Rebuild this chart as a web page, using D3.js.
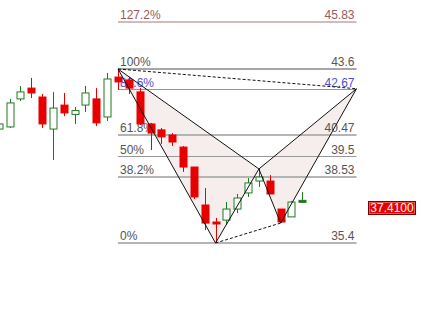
<!DOCTYPE html>
<html>
<head>
<meta charset="utf-8">
<script src="https://cdn.jsdelivr.net/npm/d3@7"></script>
<style>
  body { margin: 0; background: #fff; }
  svg { display: block; font-family: "Liberation Sans", Arial, sans-serif; }
</style>
</head>
<body>
<svg id="chart" width="422" height="326"></svg>
<script>
// candle data, one entry per bar
var opens  = [40.77, 40.87, 42.19, 42.70, 42.28, 40.77, 41.90, 41.46, 41.90, 42.19, 41.34, 43.22, 43.08, 42.52, 41.01,
              40.73, 40.49, 39.92, 38.98, 37.19, 36.39, 36.48, 37.00, 37.76, 38.32, 38.32, 37.00, 36.63, 37.35];
var highs  = [41.06, 42.19, 42.80, 43.18, 42.42, 42.52, 42.47, 41.81, 42.80, 42.70, 43.41, 43.60, 43.22, 42.70, 41.06,
              40.82, 40.58, 39.97, 38.98, 37.99, 36.58, 37.33, 37.71, 38.46, 38.89, 38.60, 37.00, 37.38, 37.80];
var lows   = [40.73, 40.82, 42.09, 42.23, 40.82, 39.31, 41.38, 41.01, 41.57, 40.91, 41.15, 42.61, 42.42, 40.96, 39.78,
              40.07, 39.97, 38.75, 37.47, 36.01, 35.40, 36.25, 36.81, 37.57, 38.04, 37.71, 36.34, 36.63, 37.35];
var closes = [41.01, 42.00, 42.52, 42.47, 41.01, 41.76, 41.53, 41.64, 42.47, 41.06, 43.13, 42.99, 42.70, 41.01, 40.58,
              40.40, 40.16, 38.98, 37.57, 36.34, 36.30, 37.00, 37.52, 38.23, 38.51, 37.71, 36.39, 37.33, 37.41];

// fibonacci levels
var fibLabels = ["127.2%", "100%", "88.6%", "61.8%", "50%", "38.2%", "0%"];
var fibValues = [45.83, 43.6, 42.67, 40.47, 39.5, 38.53, 35.4];
var fibRight  = ["45.83", "43.6", "42.67", "40.47", "39.5", "38.53", "35.4"];

// harmonic pattern points X, A, B, C, D (bar index, price)
var patIdx   = [11, 20, 24, 26, 33];
var patPrice = [43.6, 35.4, 38.89, 36.34, 42.67];

var lastPrice = "37.4100";

var svg = d3.select("#chart");

var x = d3.scaleLinear().domain([11, 33]).range([118, 356.5]);
var y = d3.scaleLinear().domain([35.4, 43.6]).range([243, 69]);

var fibStyle = {
  "127.2%": { line: "#c4a4a4", text: "#9a5a5a", w: 1.5 },
  "100%":   { line: "#888",    text: "#555",    w: 1.5 },
  "88.6%":  { line: "#8c8ce8", text: "#5050d0", w: 1 },
  "61.8%":  { line: "#b4b4b4", text: "#555",    w: 2 },
  "50%":    { line: "#999",    text: "#555",    w: 1 },
  "38.2%":  { line: "#b4b4b4", text: "#555",    w: 2 },
  "0%":     { line: "#b4b4b4", text: "#555",    w: 2 }
};

var pts = patIdx.map(function(d, i) { return [x(d), y(patPrice[i])]; });

// shaded triangles XAB and BCD
svg.append("g").selectAll("path")
  .data([[pts[0], pts[1], pts[2]], [pts[2], pts[3], pts[4]]])
  .enter().append("path")
  .attr("d", function(d) { return "M" + d.join("L") + "Z"; })
  .attr("fill", "#f6eded")
  .attr("stroke", "none");

// fib lines + labels
var fib = svg.append("g");
fibValues.forEach(function(v, i) {
  var s = fibStyle[fibLabels[i]];
  var yy = Math.round(y(v)) + (s.w == 1 ? 0.5 : 0);
  fib.append("line")
    .attr("x1", x(11)).attr("x2", x(33))
    .attr("y1", yy).attr("y2", yy)
    .attr("stroke", s.line)
    .attr("stroke-width", s.w);
  fib.append("text")
    .attr("x", x(11) + 2).attr("y", yy - 3)
    .attr("font-size", 12).attr("fill", s.text)
    .text(fibLabels[i]);
  fib.append("text")
    .attr("x", x(33) - 2).attr("y", yy - 3)
    .attr("text-anchor", "end")
    .attr("font-size", 12).attr("fill", s.text)
    .text(fibRight[i]);
});

// candles
var green = "#1f7a1f", red = "#e80000";
var candles = svg.append("g").selectAll("g")
  .data(d3.range(opens.length))
  .enter().append("g");

candles.append("line")
  .attr("x1", function(i) { return Math.round(x(i)) + 0.5; })
  .attr("x2", function(i) { return Math.round(x(i)) + 0.5; })
  .attr("y1", function(i) { return y(highs[i]); })
  .attr("y2", function(i) { return y(lows[i]); })
  .attr("stroke", function(i) { return closes[i] >= opens[i] ? green : red; });

candles.append("rect")
  .attr("x", function(i) { return Math.round(x(i)) - 3; })
  .attr("width", 7)
  .attr("y", function(i) { return y(Math.max(opens[i], closes[i])); })
  .attr("height", function(i) { return Math.max(2, Math.abs(y(opens[i]) - y(closes[i]))); })
  .attr("fill", function(i) {
    if (closes[i] < opens[i]) return red;
    return Math.abs(y(opens[i]) - y(closes[i])) < 2 ? green : "#fff";
  })
  .attr("stroke", function(i) { return closes[i] >= opens[i] ? green : red; })
  .attr("stroke-width", 1);

// pattern legs
var legs = svg.append("g").attr("fill", "none").attr("stroke", "#111").attr("stroke-width", 1);
[[0, 1], [1, 2], [2, 3], [3, 4], [0, 2], [2, 4]].forEach(function(p) {
  legs.append("line")
    .attr("x1", pts[p[0]][0]).attr("y1", pts[p[0]][1])
    .attr("x2", pts[p[1]][0]).attr("y2", pts[p[1]][1]);
});
[[0, 4], [1, 3]].forEach(function(p) {
  legs.append("line")
    .attr("x1", pts[p[0]][0]).attr("y1", pts[p[0]][1])
    .attr("x2", pts[p[1]][0]).attr("y2", pts[p[1]][1])
    .attr("stroke-dasharray", "3,2");
});

// last price tag
var tag = svg.append("g").attr("transform", "translate(368," + (Math.round(y(closes[closes.length - 1])) + 1) + ")");
tag.append("rect")
  .attr("x", 0.5).attr("y", 0.5).attr("width", 47).attr("height", 13)
  .attr("fill", red).attr("stroke", "#700");
tag.append("rect")
  .attr("x", 1.5).attr("y", 1.5).attr("width", 45).attr("height", 11)
  .attr("fill", "none").attr("stroke", "#f88").attr("stroke-width", 0.6);
tag.append("text")
  .attr("x", 24).attr("y", 11)
  .attr("text-anchor", "middle")
  .attr("font-size", 12).attr("fill", "#fff")
  .text(lastPrice);
</script>
</body>
</html>
